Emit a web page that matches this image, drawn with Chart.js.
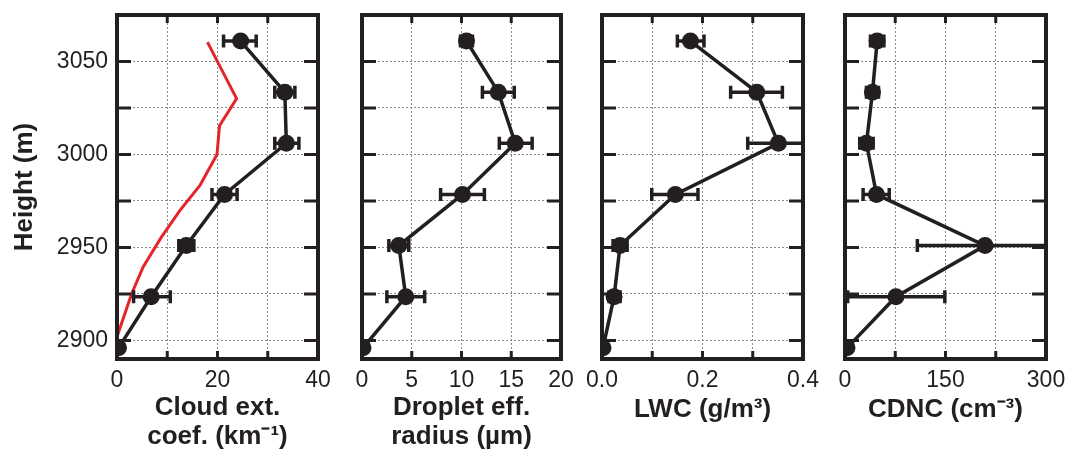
<!DOCTYPE html>
<html>
<head>
<meta charset="utf-8">
<script src="https://cdn.jsdelivr.net/npm/chart.js@4"></script>
<style>
    html, body { margin: 0; padding: 0; background: #fff; }
    #wrap { position: relative; width: 1067px; height: 451px; }
    #wrap canvas { position: absolute; left: 0; top: 0; }
</style>
</head>
<body>
<div id="wrap">
    <canvas id="extChart" width="1067" height="451"></canvas>
    <canvas id="reffChart" width="1067" height="451"></canvas>
    <canvas id="lwcChart" width="1067" height="451"></canvas>
    <canvas id="cdncChart" width="1067" height="451"></canvas>
</div>
<script>
// Measurement heights (m), shared by all four panels
const heights = [2896, 2923.5, 2951, 2978.5, 3006, 3033.5, 3061];

// Cloud extinction coefficient (km-1) with error range
const extValues = [0.3, 6.8, 13.8, 21.4, 33.7, 33.4, 24.6];
const extLow    = [0.3, 3.3, 12.3, 18.9, 31.4, 31.4, 21.2];
const extHigh   = [0.3, 10.6, 15.3, 23.9, 36.2, 35.4, 27.7];

// Red profile in the first panel
const modelExt     = [0, 2.9, 5.2, 8.8, 12.5, 16.5, 19.9, 20.4, 23.8, 18.0];
const modelHeights = [2902, 2925, 2939.5, 2955.4, 2969.8, 2983.3, 3000, 3015.5, 3030, 3060.4];

// Droplet effective radius (um)
const reffValues = [0.1, 4.4, 3.7, 10.1, 15.4, 13.7, 10.5];
const reffLow    = [0.1, 2.5, 2.7, 7.9, 13.8, 12.1, 9.9];
const reffHigh   = [0.1, 6.3, 4.7, 12.3, 17.1, 15.3, 11.1];

// Liquid water content (g/m3)
const lwcValues = [0.002, 0.024, 0.036, 0.146, 0.351, 0.308, 0.176];
const lwcLow    = [0.002, 0.014, 0.022, 0.099, 0.290, 0.256, 0.150];
const lwcHigh   = [0.002, 0.036, 0.050, 0.191, 0.415, 0.359, 0.203];

// Cloud droplet number concentration (cm-3)
const cdncValues = [3, 76, 209, 47, 32, 41, 48];
const cdncLow    = [3, 4, 108, 27, 22, 32, 38];
const cdncHigh   = [3, 149, 310, 66, 42, 50, 58];

const FONT = '"Liberation Sans", Arial, Helvetica, sans-serif';
const INK = '#231f20';

function toPoints(xs, ys) {
    return xs.map((v, i) => ({ x: v, y: ys[i] }));
}

// Error bars, thick frame and inward tick marks
const framePlugin = {
    id: 'frame',
    afterDatasetsDraw(chart) {
        const { ctx, chartArea: a, scales: { x, y } } = chart;
        ctx.save();
        ctx.beginPath();
        ctx.rect(a.left, a.top, a.right - a.left, a.bottom - a.top);
        ctx.clip();
        ctx.strokeStyle = INK;
        ctx.lineWidth = 3.5;
        chart.data.datasets.forEach(ds => {
            if (!ds.errLow) return;
            ds.data.forEach((p, i) => {
                const lo = ds.errLow[i];
                const hi = ds.errHigh[i];
                if (lo === hi) return;
                const py = y.getPixelForValue(p.y);
                const x0 = x.getPixelForValue(lo);
                const x1 = x.getPixelForValue(hi);
                ctx.beginPath();
                ctx.moveTo(x0, py); ctx.lineTo(x1, py);
                ctx.moveTo(x0, py - 6.5); ctx.lineTo(x0, py + 6.5);
                ctx.moveTo(x1, py - 6.5); ctx.lineTo(x1, py + 6.5);
                ctx.stroke();
            });
        });
        ctx.restore();
    },
    afterDraw(chart) {
        const { ctx, chartArea: a, scales: { x, y } } = chart;
        ctx.save();
        ctx.strokeStyle = INK;
        ctx.lineWidth = 3;
        ctx.beginPath();
        // y ticks every 25 m, on both sides
        y.ticks.forEach(t => {
            if (t.value % 25 !== 0) return;
            const py = y.getPixelForValue(t.value);
            ctx.moveTo(a.left, py); ctx.lineTo(a.left + 14, py);
            ctx.moveTo(a.right, py); ctx.lineTo(a.right - 14, py);
        });
        // x ticks, top and bottom
        x.ticks.forEach(t => {
            if (t.value <= x.min || t.value >= x.max) return;
            const px = x.getPixelForValue(t.value);
            ctx.moveTo(px, a.top); ctx.lineTo(px, a.top + 8);
            ctx.moveTo(px, a.bottom); ctx.lineTo(px, a.bottom - 8);
        });
        ctx.stroke();
        ctx.lineWidth = 4;
        ctx.strokeRect(a.left, a.top, a.right - a.left, a.bottom - a.top);
        ctx.restore();
    }
};

function makePanel(canvasId, panel) {
    const datasets = [];
    if (panel.extra) datasets.push(panel.extra);
    datasets.push({
        data: toPoints(panel.values, heights),
        errLow: panel.low,
        errHigh: panel.high,
        borderColor: INK,
        backgroundColor: INK,
        borderWidth: 3.5,
        pointRadius: 8.5,
        pointHoverRadius: 8.5,
        pointBorderWidth: 0,
        clip: 0
    });

    const isFirst = panel.first === true;
    const titleBottom = Array.isArray(panel.title) ? 0 : 27;

    return new Chart(document.getElementById(canvasId), {
        type: 'line',
        data: { datasets: datasets },
        options: {
            responsive: false,
            animation: false,
            events: [],
            layout: {
                autoPadding: false,
                padding: { top: 15, bottom: 0, left: panel.padLeft, right: panel.padRight }
            },
            plugins: {
                legend: { display: false },
                tooltip: { enabled: false }
            },
            scales: {
                x: {
                    type: 'linear',
                    min: panel.min,
                    max: panel.max,
                    grid: { color: '#8a8a8a', lineWidth: 1, drawTicks: false },
                    border: { display: false, dash: [2, 2] },
                    ticks: {
                        stepSize: panel.step,
                        autoSkip: false,
                        maxRotation: 0,
                        padding: 8,
                        color: INK,
                        font: { family: FONT, size: 23 },
                        callback: panel.tickLabel
                    },
                    title: {
                        display: true,
                        text: panel.title,
                        color: INK,
                        font: { family: FONT, size: 26, weight: 'bold', lineHeight: 1.1 },
                        padding: { top: 0, bottom: titleBottom }
                    },
                    afterFit(scale) {
                        scale.height = 92;
                        scale.paddingLeft = 0;
                        scale.paddingRight = 0;
                    }
                },
                y: {
                    type: 'linear',
                    min: 2890,
                    max: 3075,
                    grid: { color: '#8a8a8a', lineWidth: 1, drawTicks: false },
                    border: { display: false, dash: [2, 2] },
                    ticks: {
                        display: isFirst,
                        stepSize: 25,
                        includeBounds: false,
                        padding: 9,
                        color: INK,
                        font: { family: FONT, size: 23 },
                        callback: v => (v % 50 === 0 ? String(v) : '')
                    },
                    title: {
                        display: isFirst,
                        text: 'Height (m)',
                        color: INK,
                        font: { family: FONT, size: 26, weight: 'bold', lineHeight: 1.1 },
                        padding: { top: 11, bottom: 0 }
                    },
                    afterFit(scale) {
                        scale.width = isFirst ? 117 : 0;
                        scale.paddingTop = 0;
                        scale.paddingBottom = 0;
                    }
                }
            }
        },
        plugins: [framePlugin]
    });
}

document.addEventListener('DOMContentLoaded', function() {
    makePanel('extChart', {
        first: true,
        values: extValues, low: extLow, high: extHigh,
        min: 0, max: 40, step: 10,
        padLeft: 0, padRight: 1067 - 318,
        tickLabel: v => (v % 20 === 0 ? String(v) : ''),
        title: ['Cloud ext.', 'coef. (km\u207B\u00B9)'],
        extra: {
            data: toPoints(modelExt, modelHeights),
            borderColor: '#e4262b',
            borderWidth: 3,
            pointRadius: 0,
            clip: 0
        }
    });

    makePanel('reffChart', {
        values: reffValues, low: reffLow, high: reffHigh,
        min: 0, max: 20, step: 5,
        padLeft: 362, padRight: 1067 - 561,
        tickLabel: v => String(v),
        title: ['Droplet eff.', 'radius (\u00B5m)']
    });

    makePanel('lwcChart', {
        values: lwcValues, low: lwcLow, high: lwcHigh,
        min: 0, max: 0.4, step: 0.1,
        padLeft: 602, padRight: 1067 - 803,
        tickLabel: (v, i) => (i % 2 === 0 ? v.toFixed(1) : ''),
        title: 'LWC (g/m\u00B3)'
    });

    makePanel('cdncChart', {
        values: cdncValues, low: cdncLow, high: cdncHigh,
        min: 0, max: 300, step: 75,
        padLeft: 845, padRight: 1067 - 1046,
        tickLabel: v => (v % 150 === 0 ? String(v) : ''),
        title: 'CDNC (cm\u207B\u00B3)'
    });
});
</script>
</body>
</html>
